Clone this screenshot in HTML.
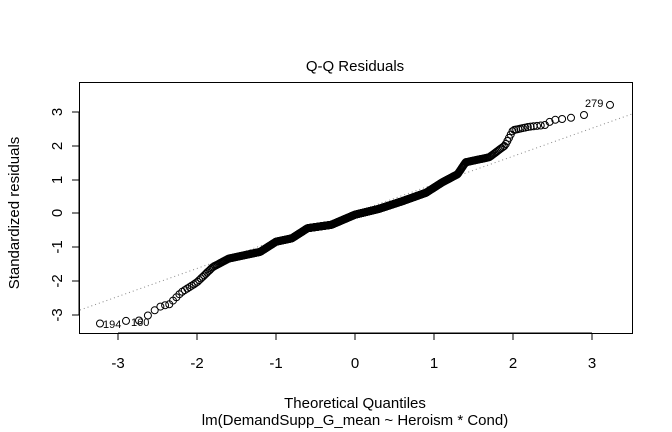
<!DOCTYPE html>
<html><head><meta charset="utf-8"><style>
html,body{margin:0;padding:0;background:#fff;}
svg{display:block;font-family:"Liberation Sans",Arial,sans-serif;}
</style></head><body>
<svg id="s" width="672" height="432" viewBox="0 0 672 432" xmlns="http://www.w3.org/2000/svg">
<rect x="0" y="0" width="672" height="432" fill="#fff"/>
<text x="355" y="71" font-size="15" text-anchor="middle">Q-Q Residuals</text>
<rect x="79.5" y="82.5" width="553" height="251" fill="none" stroke="#000" stroke-width="1"/>
<line x1="80" y1="310" x2="632" y2="114" stroke="#888" stroke-width="1" stroke-dasharray="1,3"/>
<g id="pts" fill="none" stroke="#000" stroke-width="1"></g>
<g stroke="#000" stroke-width="1">
<line x1="118" y1="333" x2="592" y2="333"/>
<line x1="118" y1="333" x2="118" y2="340"/><line x1="197" y1="333" x2="197" y2="340"/>
<line x1="276" y1="333" x2="276" y2="340"/><line x1="355" y1="333" x2="355" y2="340"/>
<line x1="434" y1="333" x2="434" y2="340"/><line x1="513" y1="333" x2="513" y2="340"/>
<line x1="592" y1="333" x2="592" y2="340"/>
<line x1="79" y1="112" x2="79" y2="315"/>
<line x1="72" y1="112" x2="79" y2="112"/><line x1="72" y1="146" x2="79" y2="146"/>
<line x1="72" y1="180" x2="79" y2="180"/><line x1="72" y1="213" x2="79" y2="213"/>
<line x1="72" y1="247" x2="79" y2="247"/><line x1="72" y1="281" x2="79" y2="281"/>
<line x1="72" y1="315" x2="79" y2="315"/>
</g>
<g font-size="15" text-anchor="middle">
<text x="118" y="368">-3</text><text x="197" y="368">-2</text><text x="276" y="368">-1</text>
<text x="355" y="368">0</text><text x="434" y="368">1</text><text x="513" y="368">2</text><text x="592" y="368">3</text>
</g>
<g font-size="15" text-anchor="middle">
<text transform="translate(62,112) rotate(-90)">3</text>
<text transform="translate(62,146) rotate(-90)">2</text>
<text transform="translate(62,180) rotate(-90)">1</text>
<text transform="translate(62,213) rotate(-90)">0</text>
<text transform="translate(62,247) rotate(-90)">-1</text>
<text transform="translate(62,281) rotate(-90)">-2</text>
<text transform="translate(62,315) rotate(-90)">-3</text>
</g>
<text transform="translate(19,213) rotate(-90)" font-size="15" text-anchor="middle">Standardized residuals</text>
<text x="355" y="408" font-size="15" text-anchor="middle">Theoretical Quantiles</text>
<text x="355" y="425" font-size="15" text-anchor="middle">lm(DemandSupp_G_mean ~ Heroism * Cond)</text>
<g font-size="11">
<text x="103" y="328">194</text>
<text x="131" y="326">160</text>
<text x="585" y="107">279</text>
</g>
</svg>
<script>
(function(){
var c=[[-3.23,-3.27],[-2.95,-3.2],[-2.8,-3.18],[-2.7,-3.18],[-2.55,-2.9],[-2.45,-2.75],[-2.35,-2.7],[-2.2,-2.35],[-2.0,-2.05],[-1.8,-1.6],[-1.6,-1.35],[-1.2,-1.15],[-1.0,-0.85],[-0.8,-0.75],[-0.6,-0.45],[-0.3,-0.35],[0,-0.05],[0.3,0.12],[0.6,0.35],[0.9,0.6],[1.1,0.9],[1.3,1.15],[1.4,1.5],[1.7,1.65],[1.9,2.0],[2.0,2.45],[2.2,2.55],[2.4,2.6],[2.5,2.75],[2.7,2.8],[2.9,2.9],[3.23,3.2]];
function f(x){if(x<=c[0][0])return c[0][1];for(var i=0;i<c.length-1;i++){if(x<=c[i+1][0]){var t=(x-c[i][0])/(c[i+1][0]-c[i][0]);return c[i][1]+t*(c[i+1][1]-c[i][1]);}}return c[c.length-1][1];}
function qn(p){var a=[-39.6968302866538,220.946098424521,-275.928510446969,138.357751867269,-30.6647980661472,2.50662827745924],b=[-54.4760987982241,161.585836858041,-155.698979859887,66.8013118877197,-13.2806815528857],cc=[-0.00778489400243029,-0.322396458041136,-2.40075827716184,-2.54973253934373,4.37466414146497,2.93816398269878],d=[0.00778469570904146,0.32246712907004,2.445134137143,3.75440866190742];var q,r;
if(p<0.02425){q=Math.sqrt(-2*Math.log(p));return (((((cc[0]*q+cc[1])*q+cc[2])*q+cc[3])*q+cc[4])*q+cc[5])/((((d[0]*q+d[1])*q+d[2])*q+d[3])*q+1);}
if(p>1-0.02425){q=Math.sqrt(-2*Math.log(1-p));return -(((((cc[0]*q+cc[1])*q+cc[2])*q+cc[3])*q+cc[4])*q+cc[5])/((((d[0]*q+d[1])*q+d[2])*q+d[3])*q+1);}
q=p-0.5;r=q*q;return (((((a[0]*r+a[1])*r+a[2])*r+a[3])*r+a[4])*r+a[5])*q/(((((b[0]*r+b[1])*r+b[2])*r+b[3])*r+b[4])*r+1);}
var n=800,g=document.getElementById('pts'),s='';
for(var i=1;i<=n;i++){var x=qn((i-0.5)/n);var y=f(x);var px=355+79*x,py=213-33.8*y;
s+='<circle cx="'+px.toFixed(1)+'" cy="'+py.toFixed(1)+'" r="3.5"/>';}
g.innerHTML=s;
})();
</script>
</body></html>
